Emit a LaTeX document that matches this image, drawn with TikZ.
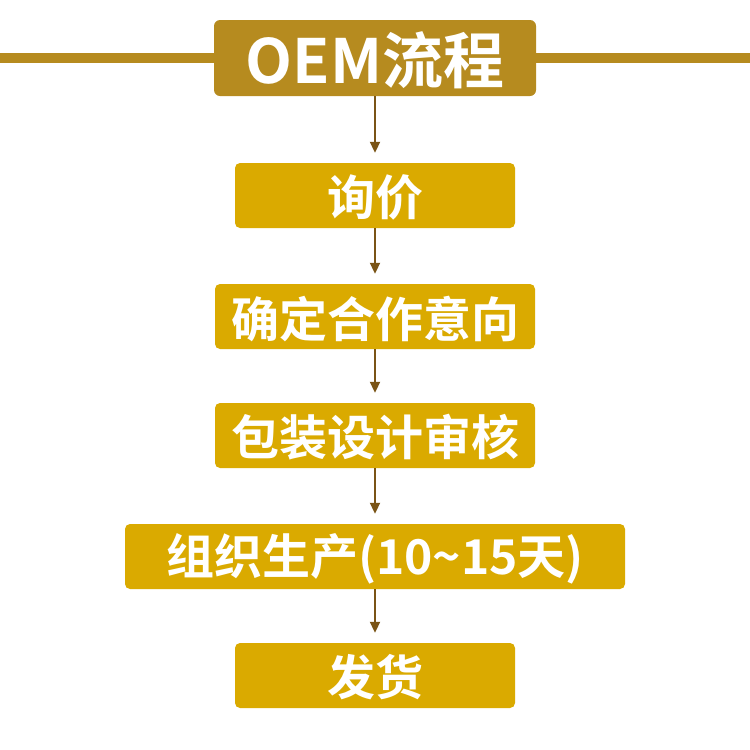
\documentclass[tikz,border=0pt]{standalone}
\usepackage{fontspec}
\setmainfont{Noto Sans CJK SC}[BoldFont={Noto Sans CJK SC Bold}]
\usetikzlibrary{arrows.meta}
\definecolor{titlegold}{HTML}{B68B1F}
\definecolor{boxgold}{HTML}{DAAA00}
\definecolor{arrowbrown}{HTML}{7A5416}
\tikzset{
  titlebox/.style={fill=titlegold, rounded corners=6pt, minimum width=322pt, minimum height=76pt, inner sep=0pt,
    text=white, font=\fontsize{61pt}{61pt}\selectfont\bfseries},
  stepbox/.style={fill=boxgold, rounded corners=5pt, minimum height=65pt, inner sep=0pt,
    text=white, font=\fontsize{48pt}{48pt}\selectfont\bfseries},
  flow/.style={draw=arrowbrown, line width=2pt, shorten >=10pt, -{Triangle[width=10pt,length=11pt]}}
}
\begin{document}
\begin{tikzpicture}[x=1pt,y=-1pt]
\useasboundingbox (0,0) rectangle (750,750);
\coordinate (lineL) at (0,57.5);
\coordinate (lineR) at (750,57.5);
\draw[titlegold, line width=10pt] (lineL) -- (lineR);
\node[titlebox] (title) at (375,58) {};
\node[text=white, font=\fontsize{61pt}{61pt}\selectfont\bfseries, inner sep=0pt] (titletext) at (375,60) {OEM流程};
\node[stepbox, minimum width=280pt] (s1) at (375,195.5) {};
\node[stepbox, minimum width=320pt] (s2) at (375,316.5) {};
\node[stepbox, minimum width=320pt] (s3) at (375,435.5) {};
\node[stepbox, minimum width=500pt] (s4) at (375,556.5) {};
\node[stepbox, minimum width=280pt] (s5) at (375,675.5) {};
\tikzset{steptext/.style={text=white, font=\fontsize{48pt}{48pt}\selectfont\bfseries, inner sep=0pt}}
\node[steptext] (t1) at (375,197.5) {询价};
\node[steptext] (t2) at (375,318.5) {确定合作意向};
\node[steptext] (t3) at (375,437.5) {包装设计审核};
\node[steptext] (t4) at (375,558.5) {组织生产(10\textasciitilde 15天)};
\node[steptext] (t5) at (375,677.5) {发货};
\draw[flow] (title.south) -- (s1.north);
\draw[flow] (s1.south) -- (s2.north);
\draw[flow] (s2.south) -- (s3.north);
\draw[flow] (s3.south) -- (s4.north);
\draw[flow] (s4.south) -- (s5.north);
\end{tikzpicture}
\end{document}
